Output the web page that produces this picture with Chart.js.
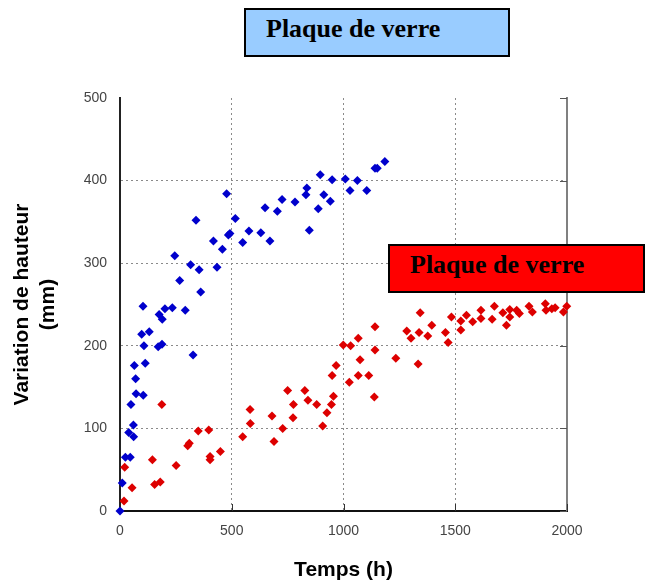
<!DOCTYPE html>
<html>
<head>
<meta charset="utf-8">
<script src="https://cdn.jsdelivr.net/npm/chart.js@4"></script>
<style>
  body { margin: 0; background: #fff; }
  #wrap { position: relative; width: 647px; height: 582px; }
  .tag {
    position: absolute;
    box-sizing: border-box;
    height: 49px;
    border: 2px solid #000;
    padding: 4px 0 0 20px;
    line-height: 41px;
    font: bold 26px "Liberation Serif", "Times New Roman", serif;
    color: #000;
    white-space: nowrap;
  }
  #tagBlue { left: 244px; top: 8px; width: 266px; background: #99ccff; }
  #tagRed { left: 388px; top: 244px; width: 257px; background: #ff0000; }
</style>
</head>
<body>
<div id="wrap">
  <canvas id="chart" width="647" height="582"></canvas>
  <div class="tag" id="tagBlue">Plaque de verre</div>
  <div class="tag" id="tagRed">Plaque de verre</div>
</div>
<script>
// blue series (upper curve)
const blueTime = [0, 10, 24, 46, 39, 60, 61, 49, 72, 104, 70, 64, 113, 97, 131, 107, 171, 188, 327,
  103, 175, 189, 201, 234, 292, 267, 361, 245, 316, 354, 434, 418, 458, 492, 485, 516, 477, 340,
  549, 577, 630, 671, 649, 704, 725, 783, 836, 832, 847, 896, 912, 887, 941, 949, 1008, 1029,
  1062, 1104, 1141, 1151, 1185];
const blueHeight = [0, 34, 65, 65, 95, 104, 90, 129, 142, 140, 160, 176, 179, 214, 217, 200, 199, 202, 189,
  248, 238, 232, 245, 246, 243, 279, 265, 309, 298, 292, 295, 327, 317, 336, 334, 354, 384, 352,
  325, 339, 337, 327, 367, 363, 377, 374, 391, 383, 340, 407, 383, 366, 375, 401, 402, 388,
  400, 388, 415, 415, 423];

// red series (lower curve)
const redTime = [18, 21, 54, 145, 155, 180, 187, 251, 303, 310, 350, 397, 403, 403, 449, 549, 582, 583,
  680, 689, 728, 750, 776, 774, 827, 841, 880, 955, 946, 926, 907, 967, 949, 1026, 1066, 1113,
  1138, 1074, 1141, 1234, 1334, 999, 1032, 1066, 1141, 1283, 1302, 1338, 1377, 1343, 1395,
  1483, 1456, 1468, 1525, 1525, 1550, 1578, 1615, 1615, 1665, 1675, 1713, 1729, 1744, 1744,
  1775, 1787, 1830, 1845, 1903, 1906, 1932, 1947, 1984, 1999];
const redHeight = [12, 53, 28, 62, 32, 35, 129, 55, 79, 82, 97, 98, 66, 62, 72, 90, 123, 106,
  115, 84, 100, 146, 129, 113, 146, 134, 129, 139, 129, 119, 103, 176, 164, 156, 164, 164,
  138, 183, 195, 185, 178, 201, 200, 209, 223, 218, 209, 216, 212, 240, 225,
  235, 216, 204, 230, 219, 237, 229, 243, 233, 232, 248, 240, 225, 244, 235,
  243, 239, 248, 241, 251, 243, 245, 246, 241, 248];

const xTicks = [0, 500, 1000, 1500, 2000];
const yTicks = [0, 100, 200, 300, 400, 500];

function toPoints(xs, ys) {
  return xs.map((x, i) => ({ x: x, y: ys[i] }));
}

// inward tick marks and the grey right-hand frame line
const frameTicks = {
  id: "frameTicks",
  beforeDatasetsDraw(chart) {
    const { ctx, chartArea, scales } = chart;
    ctx.save();
    ctx.strokeStyle = "#808080";
    ctx.lineWidth = 2;
    ctx.beginPath();
    ctx.moveTo(chartArea.right, chartArea.top - 1);
    ctx.lineTo(chartArea.right, chartArea.bottom);
    ctx.stroke();
    ctx.lineWidth = 1;
    ctx.strokeStyle = "#555";
    yTicks.forEach((v) => {
      const y = Math.round(scales.y.getPixelForValue(v)) + 0.5;
      ctx.beginPath();
      ctx.moveTo(chartArea.right, y);
      ctx.lineTo(chartArea.right - 7, y);
      ctx.stroke();
    });
    ctx.strokeStyle = "#333";
    xTicks.slice(1).forEach((v) => {
      const x = Math.round(scales.x.getPixelForValue(v)) + 0.5;
      ctx.beginPath();
      ctx.moveTo(x, chartArea.bottom);
      ctx.lineTo(x, chartArea.bottom - 7);
      ctx.stroke();
    });
    ctx.restore();
  },
};

const gridColor = "#8a8a8a";
const tickFont = { family: "Arial, 'Liberation Sans'", size: 14 };

const config = {
  type: "scatter",
  data: {
    datasets: [
      {
        data: toPoints(blueTime, blueHeight),
        pointStyle: "rectRot",
        pointRadius: 4.5,
        pointBorderWidth: 0,
        backgroundColor: "#0000cc",
        borderColor: "#0000cc",
        clip: false,
      },
      {
        data: toPoints(redTime, redHeight),
        pointStyle: "rectRot",
        pointRadius: 4.5,
        pointBorderWidth: 0,
        backgroundColor: "#dd0000",
        borderColor: "#dd0000",
        clip: false,
      },
    ],
  },
  options: {
    responsive: false,
    animation: false,
    events: [],
    layout: { padding: { top: 98, right: 80, left: 0, bottom: 0 } },
    plugins: {
      legend: { display: false },
      tooltip: { enabled: false },
    },
    scales: {
      x: {
        type: "linear",
        min: 0,
        max: 2000,
        afterFit: (s) => { s.height = 71; },
        afterBuildTicks: (s) => { s.ticks = xTicks.map((v) => ({ value: v })); },
        ticks: {
          padding: 12,
          color: "#444",
          font: tickFont,
          callback: (v) => String(v),
        },
        grid: {
          drawTicks: false,
          lineWidth: 1,
          color: (c) => (c.tick && (c.tick.value === 0 || c.tick.value === 2000) ? "rgba(0,0,0,0)" : gridColor),
        },
        border: { display: true, color: "#111", width: 2, dash: [2, 3] },
        title: {
          display: true,
          text: "Temps (h)",
          color: "#000",
          font: { family: "Arial, 'Liberation Sans'", size: 21, weight: "bold", lineHeight: 1.15 },
          padding: { top: 0, bottom: 0 },
        },
      },
      y: {
        min: 0,
        max: 500,
        afterFit: (s) => { s.width = 120; },
        afterBuildTicks: (s) => { s.ticks = yTicks.map((v) => ({ value: v })); },
        ticks: {
          padding: 13,
          color: "#444",
          font: tickFont,
          callback: (v) => String(v),
        },
        grid: {
          drawTicks: false,
          lineWidth: 1,
          color: (c) => (c.tick && (c.tick.value === 0 || c.tick.value === 500) ? "rgba(0,0,0,0)" : gridColor),
        },
        border: { display: true, color: "#222", width: 2, dash: [2, 3] },
        title: {
          display: true,
          text: ["Variation de hauteur", "(mm)"],
          color: "#000",
          font: { family: "Arial, 'Liberation Sans'", size: 21, weight: "bold", lineHeight: 1.2 },
          padding: { top: 10, bottom: 0 },
        },
      },
    },
  },
  plugins: [frameTicks],
};

const myChart = new Chart(document.getElementById("chart"), config);
</script>
</body>
</html>
